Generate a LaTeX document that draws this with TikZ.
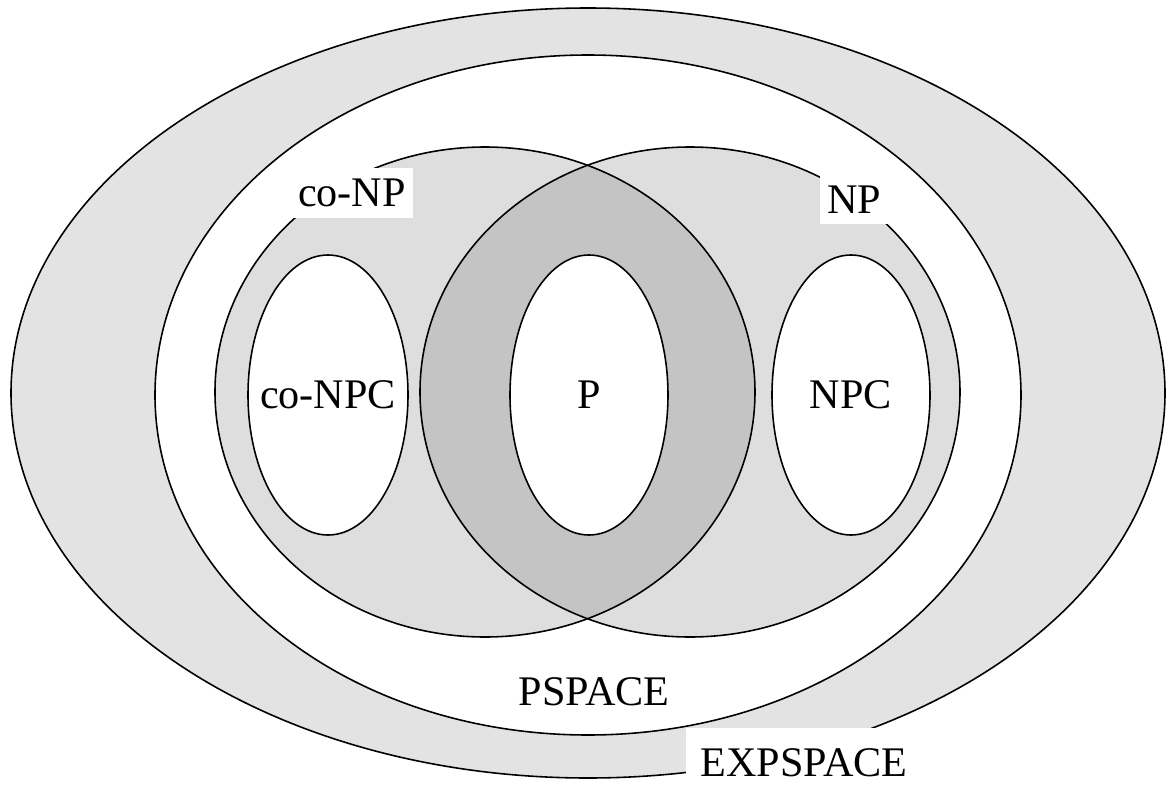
\documentclass[tikz,border=0pt]{standalone}
\usepackage{fontspec}
\setmainfont{Liberation Serif}
\definecolor{ringgray}{RGB}{227, 227, 227}
\definecolor{npgray}{RGB}{222, 222, 222}
\definecolor{lensgray}{RGB}{196, 196, 196}
\usetikzlibrary{positioning}

\begin{document}
\begin{tikzpicture}[
  x=0.1mm, y=-0.1mm,
  ring/.style={draw=black, line width=0.45pt},
  lbl/.style={font=\fontsize{12}{14}\selectfont, inner sep=1pt},
  tag/.style={lbl, fill=white, inner xsep=2pt, inner ysep=3pt}
]
  \useasboundingbox (0,0) rectangle (1170,787);
  \path[ring, fill=ringgray] (588,393) ellipse [x radius=577, y radius=385];
  \path[ring, fill=white] (588,395) ellipse [x radius=433, y radius=340];
  \path[fill=npgray] (485,392) ellipse [x radius=270, y radius=245];
  \path[fill=npgray] (690,392) ellipse [x radius=270, y radius=245];
  \begin{scope}
    \clip (485,392) ellipse [x radius=270, y radius=245];
    \path[fill=lensgray] (690,392) ellipse [x radius=270, y radius=245];
  \end{scope}
  \path[ring] (485,392) ellipse [x radius=270, y radius=245];
  \path[ring] (690,392) ellipse [x radius=270, y radius=245];
  \path[ring, fill=white] (328,395) ellipse [x radius=80, y radius=140];
  \path[ring, fill=white] (589,395) ellipse [x radius=79, y radius=140];
  \path[ring, fill=white] (851,395) ellipse [x radius=79, y radius=140];
  \node[lbl] (conpc) at (328,395) {co-NPC};
  \node[lbl] (p) at (589,395) {P};
  \node[lbl] (npc) at (851,395) {NPC};
  \node[tag] (conp) at (352,193) {co-NP};
  \node[tag] (np) at (854,200) {NP};
  \node[lbl] (pspace) at (594,692) {PSPACE};
  \node[tag, inner xsep=4pt, inner ysep=6pt] (expspace) at (804,763) {EXPSPACE};
\end{tikzpicture}
\end{document}
